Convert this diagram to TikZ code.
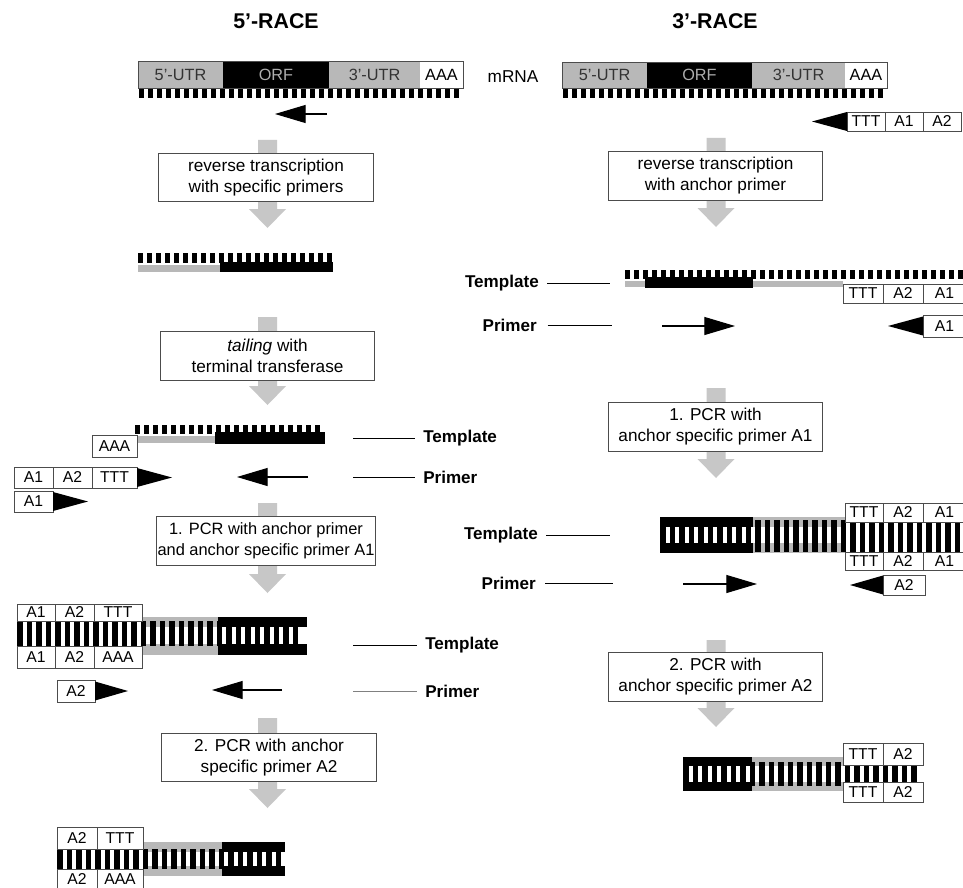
\documentclass[tikz,border=0pt]{standalone}
\usepackage{fontspec}
\setmainfont{Liberation Sans}
\usetikzlibrary{arrows.meta}
\definecolor{bargray}{gray}{0.72}
\definecolor{arrgray}{gray}{0.78}
\definecolor{edgegray}{gray}{0.3}
\definecolor{orftext}{gray}{0.68}
\definecolor{utrtext}{gray}{0.2}
\newcommand\fsbox{\fontsize{12.9}{15.75}\selectfont}
\newcommand\fsboxn{\fontsize{12.3}{15.75}\selectfont}
\newcommand\fsseg{\fontsize{11.8}{13}\selectfont}
\newcommand\fsmrna{\fontsize{12.2}{14}\selectfont}
\newcommand\fslab{\fontsize{12.8}{15}\selectfont\bfseries}
\newcommand\fstitle{\fontsize{16}{19}\selectfont\bfseries}
\newcommand\tickrow[5]{%
  \pgfmathtruncatemacro\myNt{(#2-#1-5)/#5}%
  \foreach \myI in {0,...,\myNt}{\fill ({#1+\myI*#5},#3) rectangle ({#1+\myI*#5+5},#4);}}
\newcommand\dsrow[5]{%
  \pgfmathtruncatemacro\myNt{(#2-#1-5.5)/#5}%
  \foreach \myI in {0,...,\myNt}{\fill ({#1+\myI*#5},#3) rectangle ({#1+\myI*#5+5.5},#4);}}
\newcommand\segbox[6]{%
  \draw[segedge] (#2,#3) rectangle (#4,#5);
  \node[segtext] (#1) at ({(#2+#4)/2},{(#3+#5)/2}) {#6};}
\newcommand\headR[3]{\fill (#1,{#2-9.5}) -- ({#1+#3},#2) -- (#1,{#2+9.5}) -- cycle;}
\newcommand\headL[3]{\fill (#1,{#2-9.5}) -- ({#1-#3},#2) -- (#1,{#2+9.5}) -- cycle;}
\newcommand\blockarr[3]{%
  \fill[arrgray] ({#1-9.5},#2) -- ({#1+9.5},#2) -- ({#1+9.5},{#3-19}) -- ({#1+18.5},{#3-19})
    -- (#1,#3) -- ({#1-18.5},{#3-19}) -- ({#1-9.5},{#3-19}) -- cycle;}
\begin{document}
\begin{tikzpicture}[x=0.75pt,y=-0.75pt,
  segedge/.style={draw=edgegray, line width=0.6pt, fill=white},
  segtext/.style={inner sep=0pt, font=\fsseg},
  mtext/.style={inner sep=0pt, font=\fsmrna},
  stepbox/.style={draw=edgegray, line width=0.75pt, fill=white, align=center,
     minimum width=161pt, minimum height=36.5pt, inner sep=1pt, font=\fsbox},
  primer/.style={line width=0.8pt, -{Triangle[length=23pt,width=13.5pt]}},
  labline/.style={line width=0.7pt},
  lab/.style={inner sep=0pt, font=\fslab}]
\useasboundingbox (0,0) rectangle (963,888);
\clip (0,0) rectangle (963,888);
\fill[white] (0,0) rectangle (963,888);

% titles
\node[font=\fstitle] (t5) at (276,21) {5'-RACE};
\node[font=\fstitle] (t3) at (715,21) {3'-RACE};

% ================= LEFT: 5'-RACE =================
% mRNA
\fill[bargray] (138,61) rectangle (223,88);
\fill[black] (223,61) rectangle (329,88);
\fill[bargray] (329,61) rectangle (420,88);
\fill[white] (420,61) rectangle (463,88);
\draw[edgegray, line width=0.6pt] (138,61) rectangle (463,88);
\node[mtext, text=utrtext] (l5utr) at (180.5,75) {5'-UTR};
\node[mtext, text=orftext] (lorf) at (276,75) {ORF};
\node[mtext, text=utrtext] (l3utr) at (374.5,75) {3'-UTR};
\node[mtext] (laaa) at (441.5,75) {AAA};
\tickrow{139}{463}{89}{98}{9}
\node[font=\fsbox] (mrna) at (513,77) {mRNA};

% specific primer
\coordinate (pl1s) at (327,114);
\coordinate (pl1e) at (275,114);
\draw[primer] (pl1s) -- (pl1e);

% step 1
\blockarr{267.5}{140}{228}
\node[stepbox] (ls1) at (266,177.5) {reverse transcription\\with specific primers};

% cDNA
\tickrow{138}{333}{253}{263}{9}
\fill[bargray] (138,265) rectangle (220,272);
\fill[black] (220,262) rectangle (333,272);

% step 2
\blockarr{267.5}{317}{405}
\node[stepbox] (ls2) at (267.5,356) {\textit{tailing} with\\terminal transferase};

% tailed template
\tickrow{135}{325}{425}{434}{9}
\fill[bargray] (135,436) rectangle (215,443);
\fill[black] (215,432) rectangle (325,444);
\segbox{laaa2}{92}{435}{137}{457}{AAA}

% primers
\segbox{lpa1}{14}{467}{53}{488}{A1}
\segbox{lpa2}{53}{467}{92}{488}{A2}
\segbox{lpt}{92}{467}{137}{488}{TTT}
\headR{137}{477.5}{35}
\segbox{lpb1}{14}{491}{53}{512}{A1}
\headR{53}{501.5}{35}
\coordinate (pl2s) at (308,477);
\coordinate (pl2e) at (237,477);
\draw[primer] (pl2s) -- (pl2e);

% labels
\node[lab, anchor=west] (tL1) at (423,438) {Template};
\coordinate (tL1c) at (353,438);
\draw[labline] (tL1c) -- ([xshift=-6pt]tL1.west);
\node[lab, anchor=west] (pL1) at (423,477) {Primer};
\coordinate (pL1c) at (353,477);
\draw[labline] (pL1c) -- ([xshift=-6pt]pL1.west);

% step 3
\blockarr{267.5}{503}{593}
\node[stepbox, font=\fsboxn] (ls3) at (266,541) {1. PCR with anchor primer\\and anchor specific primer A1};

% double strand after PCR 1
\fill[bargray] (142,617) rectangle (218,627);
\fill[black] (218,617) rectangle (307,627);
\fill[bargray] (142,644) rectangle (218,655);
\fill[black] (218,644) rectangle (307,655);
\dsrow{17}{307}{621}{646}{9.5}
\segbox{ld1a}{17}{604}{55}{621}{A1}
\segbox{ld1b}{55}{604}{94}{621}{A2}
\segbox{ld1c}{94}{604}{142}{621}{TTT}
\segbox{ld1d}{17}{646}{55}{668}{A1}
\segbox{ld1e}{55}{646}{94}{668}{A2}
\segbox{ld1f}{94}{646}{142}{668}{AAA}

% primers
\segbox{lpc2}{57}{680}{95}{702}{A2}
\headR{95}{691}{33}
\coordinate (pl3s) at (282,690);
\coordinate (pl3e) at (212,690);
\draw[primer] (pl3s) -- (pl3e);

\node[lab, anchor=west] (tL2) at (425,645) {Template};
\coordinate (tL2c) at (353,645);
\draw[labline] (tL2c) -- ([xshift=-6pt]tL2.west);
\node[lab, anchor=west] (pL2) at (425,691) {Primer};
\coordinate (pL2c) at (353,691);
\draw[labline, gray] (pL2c) -- ([xshift=-6pt]pL2.west);

% step 4
\blockarr{267.5}{718}{808}
\node[stepbox] (ls4) at (269,757.5) {2. PCR with anchor\\specific primer A2};

% final product
\fill[bargray] (143,842) rectangle (222,852);
\fill[black] (222,842) rectangle (285,852);
\fill[bargray] (143,866) rectangle (222,876);
\fill[black] (222,866) rectangle (285,876);
\dsrow{57}{285}{849}{869}{9.5}
\segbox{lf1}{57}{827}{97}{849}{A2}
\segbox{lf2}{97}{827}{143}{849}{TTT}
\segbox{lf3}{57}{869}{97}{889}{A2}
\segbox{lf4}{97}{869}{143}{889}{AAA}

% ================= RIGHT: 3'-RACE =================
\fill[bargray] (562,62) rectangle (647,88);
\fill[black] (647,62) rectangle (752,88);
\fill[bargray] (752,62) rectangle (845,88);
\fill[white] (845,62) rectangle (887,88);
\draw[edgegray, line width=0.6pt] (562,62) rectangle (887,88);
\node[mtext, text=utrtext] (r5utr) at (604.5,75) {5'-UTR};
\node[mtext, text=orftext] (rorf) at (699.5,75) {ORF};
\node[mtext, text=utrtext] (r3utr) at (798.5,75) {3'-UTR};
\node[mtext] (raaa) at (866,75) {AAA};
\tickrow{563}{887}{89}{98}{9}

% anchor primer
\segbox{rpt}{847}{112}{885}{131}{TTT}
\segbox{rpa1}{885}{112}{923}{131}{A1}
\segbox{rpa2}{923}{112}{961}{131}{A2}
\headL{847}{121.5}{35}

% step 1
\blockarr{716}{138}{227}
\node[stepbox] (rs1) at (715.5,176) {reverse transcription\\with anchor primer};

% template
\tickrow{625}{970}{270}{279}{9}
\fill[bargray] (625,281) rectangle (843,287);
\fill[black] (645,277) rectangle (753,288);
\segbox{rt1}{843}{284}{883}{303}{TTT}
\segbox{rt2}{883}{284}{923}{303}{A2}
\segbox{rt3}{923}{284}{966}{303}{A1}

\node[lab, anchor=east] (tR1) at (539,283) {Template};
\coordinate (tR1c) at (610,283);
\draw[labline] ([xshift=6pt]tR1.east) -- (tR1c);
\node[lab, anchor=east] (pR1) at (537,325) {Primer};
\coordinate (pR1c) at (612,325);
\draw[labline] ([xshift=8pt]pR1.east) -- (pR1c);

\coordinate (pr1s) at (662,326);
\coordinate (pr1e) at (735,326);
\draw[primer] (pr1s) -- (pr1e);
\segbox{rpb1}{923}{315}{966}{337}{A1}
\headL{923}{326}{35}

% step 2
\blockarr{716}{388}{478}
\node[stepbox] (rs2) at (715.5,427) {1. PCR with\\anchor specific primer A1};

% double strand
\fill[black] (660,517) rectangle (753,527);
\fill[bargray] (753,517) rectangle (845,527);
\fill[black] (660,543) rectangle (753,553);
\fill[bargray] (753,543) rectangle (845,553);
\dsrow{660}{970}{520}{552}{9.5}
\segbox{rd1}{845}{503}{883}{522}{TTT}
\segbox{rd2}{883}{503}{923}{522}{A2}
\segbox{rd3}{923}{503}{966}{522}{A1}
\segbox{rd4}{845}{552}{883}{570}{TTT}
\segbox{rd5}{883}{552}{923}{570}{A2}
\segbox{rd6}{923}{552}{966}{570}{A1}

\node[lab, anchor=east] (tR2) at (538,535) {Template};
\coordinate (tR2c) at (610,535);
\draw[labline] ([xshift=6pt]tR2.east) -- (tR2c);
\node[lab, anchor=east] (pR2) at (536,583) {Primer};
\coordinate (pR2c) at (613,583);
\draw[labline] ([xshift=7pt]pR2.east) -- (pR2c);

\coordinate (pr2s) at (683,584);
\coordinate (pr2e) at (757,584);
\draw[primer] (pr2s) -- (pr2e);
\segbox{rpc2}{883}{575}{925}{595}{A2}
\headL{883}{585}{33}

% step 3
\blockarr{716}{640}{727}
\node[stepbox] (rs3) at (715.5,677) {2. PCR with\\anchor specific primer A2};

% final product
\fill[black] (683,757) rectangle (752,766);
\fill[bargray] (752,757) rectangle (843,766);
\fill[black] (683,782) rectangle (752,791);
\fill[bargray] (752,782) rectangle (843,791);
\dsrow{683}{923}{762}{786}{9.5}
\segbox{rf1}{843}{743}{883}{765}{TTT}
\segbox{rf2}{883}{743}{923}{765}{A2}
\segbox{rf3}{843}{782}{883}{802}{TTT}
\segbox{rf4}{883}{782}{923}{802}{A2}
\end{tikzpicture}
\end{document}
